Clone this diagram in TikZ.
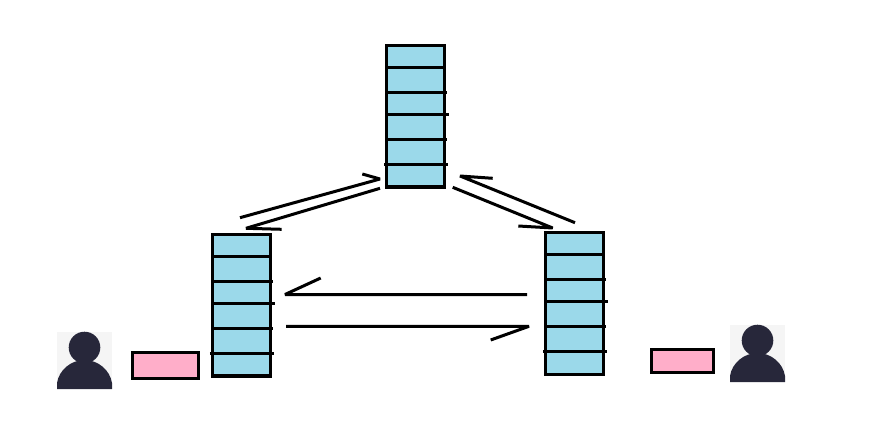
\documentclass[tikz,border=0pt]{standalone}
\definecolor{stackblue}{HTML}{9BD9EA}
\definecolor{msgpink}{HTML}{FFAEC9}
\definecolor{personbg}{HTML}{F5F5F5}
\definecolor{persondark}{HTML}{27273A}
\tikzset{
  stackbox/.style={draw, fill=stackblue, line width=3.2pt, minimum width=58pt, minimum height=141.5pt, inner sep=0pt, outer sep=0pt},
  msgbox/.style={draw, fill=msgpink, line width=3.2pt, inner sep=0pt, outer sep=0pt},
  personbox/.style={fill=personbg, minimum width=55pt, minimum height=57pt, inner sep=0pt, outer sep=0pt},
  rowline/.style={line width=3pt},
  wire/.style={line width=3pt, line join=bevel},
}
% the rows of a stack, measured from the top left corner of its box
\newcommand{\stackrows}[1]{
  \begin{scope}[shift={(#1.north west)}]
    \foreach \rowy/\rowa/\rowb in {21.8/0/58, 46.8/0/60.5, 68.8/0/62.5, 93.8/0/60.5, 118.8/-2.5/61.5}
      \draw[rowline] (\rowa, \rowy) -- (\rowb, \rowy);
  \end{scope}
}
\newcommand{\personshape}[1]{
  \begin{scope}[shift={(#1.north west)}, persondark]
    \fill (27.5, 15.5) circle[radius=15.8];
    \fill (0, 57) -- (0, 51) .. controls (2, 38) and (14, 28) .. (27.5, 28) .. controls (41, 28) and (53, 38) .. (55, 51) -- (55, 57) -- cycle;
  \end{scope}
}
\begin{document}
\begin{tikzpicture}[x=1pt, y=-1pt]
  \useasboundingbox (0, 0) rectangle (889, 441);
  % stacks
  \node[stackbox] (topstack) at (415.5, 116.2) {};
  \node[stackbox] (leftstack) at (241.4, 305.2) {};
  \node[stackbox] (rightstack) at (574.5, 303.5) {};
  \foreach \stackname in {topstack, leftstack, rightstack}
    \stackrows{\stackname};
  % messages and users
  \node[msgbox, minimum width=66pt, minimum height=26pt] (leftmsg) at (165.5, 365.5) {};
  \node[msgbox, minimum width=62pt, minimum height=23pt] (rightmsg) at (682.5, 361) {};
  \node[personbox] (leftuser) at (84.5, 360.5) {};
  \node[personbox] (rightuser) at (757.5, 353.5) {};
  \personshape{leftuser}
  \personshape{rightuser}
  % hand drawn arrows, each with its one barb
  \coordinate (lefttailup) at (240, 217.7);
  \coordinate (lefttipup) at (380, 179);
  \coordinate (leftbarbup) at (362.3, 174);
  \coordinate (lefttaildown) at (380, 188.3);
  \coordinate (lefttipdown) at (246, 228.3);
  \coordinate (leftbarbdown) at (281.7, 229.3);
  \coordinate (righttailup) at (575, 222.7);
  \coordinate (righttipup) at (460, 176);
  \coordinate (rightbarbup) at (492.7, 178.3);
  \coordinate (righttaildown) at (452.7, 187.3);
  \coordinate (righttipdown) at (552.7, 228);
  \coordinate (rightbarbdown) at (518.3, 226);
  \coordinate (midtailback) at (527, 294.5);
  \coordinate (midtipback) at (285, 294.5);
  \coordinate (midbarbback) at (320.7, 278);
  \coordinate (midtailfwd) at (286, 326.3);
  \coordinate (midtipfwd) at (529, 326.3);
  \coordinate (midbarbfwd) at (490.7, 340);
  \draw[wire] (lefttailup) -- (lefttipup) -- (leftbarbup);
  \draw[wire] (lefttaildown) -- (lefttipdown) -- (leftbarbdown);
  \draw[wire] (righttailup) -- (righttipup) -- (rightbarbup);
  \draw[wire] (righttaildown) -- (righttipdown) -- (rightbarbdown);
  \draw[wire] (midtailback) -- (midtipback) -- (midbarbback);
  \draw[wire] (midtailfwd) -- (midtipfwd) -- (midbarbfwd);
\end{tikzpicture}
\end{document}
